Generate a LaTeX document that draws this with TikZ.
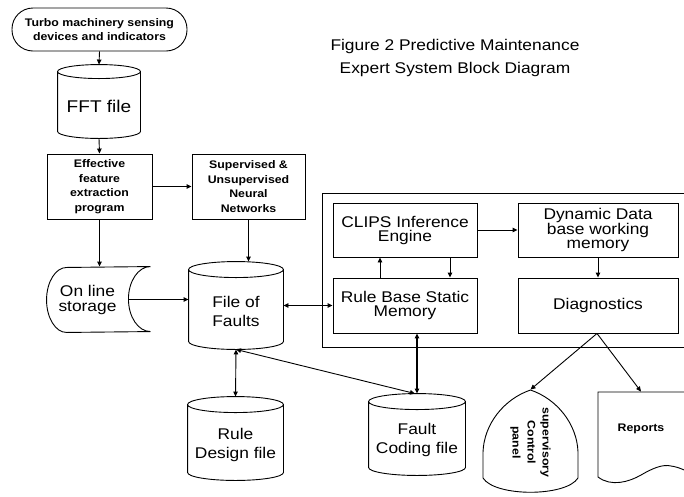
\documentclass[tikz,border=0pt]{standalone}
\usepackage{fontspec}
\setmainfont{Liberation Sans}[FakeStretch=1.12]
\usetikzlibrary{arrows.meta,calc}

% database drum drawn round an invisible rectangular node: #1 node, #2 cap half-height
\newcommand\drumoutline[2]{%
  \draw[shapeline] let \p1=(#1.north west), \p2=(#1.south east), \n1={(\x2-\x1)/2} in
    (\x1,\y1-#2pt) -- (\x1,\y2+#2pt)
    arc[start angle=180,end angle=360,x radius=\n1,y radius=#2pt]
    -- (\x2,\y1-#2pt)
    arc[start angle=0,end angle=360,x radius=\n1,y radius=#2pt];}

\begin{document}
\begin{tikzpicture}[x=1pt,y=1pt,
  line width=0.9pt,
  shapeline/.style={line width=0.9pt},
  arr/.style={-{Triangle[length=5pt,width=4.5pt]}},
  biarr/.style={{Triangle[length=5pt,width=4.5pt]}-{Triangle[length=5pt,width=4.5pt]}},
  big/.style={font=\fontsize{15.5}{14}\selectfont, align=center},
  small/.style={font=\fontsize{11}{14.5}\selectfont\bfseries, align=center},
  block/.style={draw, inner sep=0pt},
  outline/.style={inner sep=0pt},
]
\useasboundingbox (0,0) rectangle (684,-496);

% title
\node[big, font=\fontsize{15.5}{23}\selectfont] (title) at (455,-58)
  {Figure 2 Predictive Maintenance\\Expert System Block Diagram};

% sensing source
\node[block, small, rounded corners=21pt, minimum width=175pt, minimum height=43pt]
  (turbo) at (99.5,-29.5) {Turbo machinery sensing\\devices and indicators};

% FFT file
\node[outline, minimum width=82pt, minimum height=73pt,
  label={[big, font=\fontsize{17}{17}\selectfont, yshift=-5pt]center:FFT file}]
  (fft) at (99,-101.5) {};
\drumoutline{fft}{7}

% processing boxes
\node[block, small, minimum width=105pt, minimum height=65pt] (eff) at (99.5,-186.5)
  {Effective\\feature\\extraction\\program};
\node[block, small, minimum width=113pt, minimum height=65pt] (sup) at (248.5,-186.5)
  {Supervised \&\\Unsupervised\\Neural\\Networks};

% on line storage
\node[outline, minimum width=103pt, minimum height=65pt,
  label={[big, font=\fontsize{15.5}{15}\selectfont, xshift=-11pt]center:{On line\\storage}}]
  (stor) at (98.5,-299.5) {};
\draw (stor.north east) arc[start angle=90,end angle=270,x radius=22pt,y radius=32.5pt]
  -- ($(stor.south west)+(20,0)$) arc[start angle=270,end angle=90,x radius=20pt,y radius=32.5pt]
  -- cycle;
\coordinate (sconc) at ($(stor.east)+(-22,0)$);

% file of faults
\node[outline, minimum width=94pt, minimum height=87pt,
  label={[big, font=\fontsize{15.5}{19}\selectfont, yshift=-6pt]center:{File of\\Faults}}]
  (fof) at (236,-305.5) {};
\drumoutline{fof}{8}

% rule design file
\node[outline, minimum width=95pt, minimum height=83pt,
  label={[big, font=\fontsize{15.5}{19}\selectfont, yshift=-6pt]center:{Rule\\Design file}}]
  (rd) at (235.5,-438.5) {};
\drumoutline{rd}{8}

% fault coding file
\node[outline, minimum width=96pt, minimum height=81pt,
  label={[big, font=\fontsize{15.5}{19}\selectfont, yshift=-5.5pt]center:{Fault\\Coding file}}]
  (fc) at (417,-434.5) {};
\drumoutline{fc}{8}

% expert system frame
\node[draw, inner sep=0pt, minimum width=378pt, minimum height=154pt] (frame) at (511,-270) {};
\node[block, big, minimum width=144pt, minimum height=54pt] (clips) at (405,-230)
  {CLIPS Inference\\Engine};
\node[block, big, minimum width=160pt, minimum height=54pt] (dyn) at (598,-230)
  {Dynamic Data\\base working\\memory};
\node[block, big, minimum width=144pt, minimum height=55pt] (rb) at (405,-305.5)
  {Rule Base Static\\Memory};
\node[block, big, minimum width=160pt, minimum height=55pt] (diag) at (598,-305.5)
  {Diagnostics};

% supervisory control panel (display symbol)
\node[outline, minimum width=95pt, minimum height=105pt,
  label={[small, rotate=-90, font=\fontsize{11}{15}\selectfont\bfseries]center:{supervisory\\Control\\panel}}]
  (panel) at (530.5,-442.5) {};
\begin{scope}[shift={(panel.center)}]
  \draw (0,52.5) .. controls (-26.5,43.5) and (-46.5,18.5) .. (-47.5,-9.5)
    -- (-47.5,-35.5) .. controls (-35.5,-54.5) and (35.5,-54.5) .. (47.5,-35.5)
    -- (47.5,-9.5) .. controls (46.5,18.5) and (26.5,43.5) .. cycle;
\end{scope}

% reports (document symbol)
\node[outline, minimum width=86pt, minimum height=86pt,
  label={[small, yshift=6pt]center:Reports}] (rep) at (641,-435) {};
\begin{scope}[shift={(rep.center)}]
  \draw (-43,43) -- (-43,-42) .. controls (-30,-52) and (-12,-47) .. (0,-40)
    .. controls (12,-33) and (22,-29) .. (30,-31)
    .. controls (38,-32) and (45,-36) .. (50,-38) -- (50,43) -- cycle;
\end{scope}

% connectors
\draw[arr] (turbo.south) -- (fft.north);
\draw[arr] (fft.south) -- (eff.north);
\draw[arr] (eff.east) -- (sup.west);
\draw[arr] (eff.south) -- (eff.south |- stor.north);
\draw[arr] (sup.south) -- (sup.south |- fof.north);
\draw[arr] (sconc) -- (sconc -| fof.west);
\draw[biarr] (rb.west) -- (fof.east);
\draw[arr] (clips.east) -- (dyn.west);
\draw[arr] ([xshift=-25pt]rb.north) -- ([xshift=-25pt]clips.south);
\draw[arr] ([xshift=45pt]clips.south) -- ([xshift=45pt]rb.north);
\draw[arr] (dyn.south) -- (diag.north);
\draw[arr] ([xshift=-1pt]diag.south) -- (panel.north);
\draw[arr] ([xshift=-1pt]diag.south) -- (rep.north);
\draw[biarr] (fof.south) -- (rd.north);
\draw[biarr] (fof.south) -- ([xshift=-2pt]fc.north);
\draw[biarr, line width=1.6pt] (fc.north) -- (fc.north |- rb.south);
\end{tikzpicture}
\end{document}
